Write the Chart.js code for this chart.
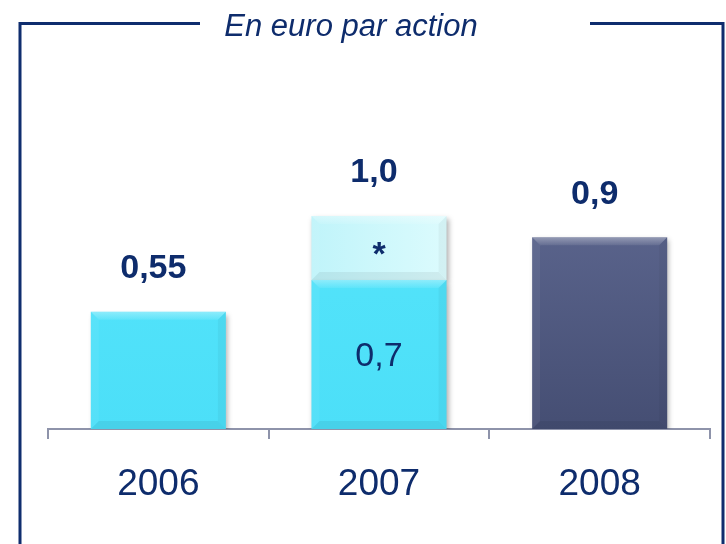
<!DOCTYPE html>
<html>
<head>
<meta charset="utf-8">
<script src="https://cdn.jsdelivr.net/npm/chart.js@4"></script>
<style>
html,body{margin:0;padding:0;background:#fff;}
#wrap{width:726px;height:544px;}
</style>
</head>
<body>
<div id="wrap"><canvas id="c" width="726" height="544"></canvas></div>
<script>
// ---- data ----
const categories = ['2006', '2007', '2008'];
const baseValues = [0.55, 0.7, 0.9];
const extraValues = [0, 0.3, 0];
const totalLabels = ['0,55', '1,0', '0,9'];
const baseInnerLabels = ['', '0,7', ''];
const extraInnerLabels = ['', '*', ''];
const titleText = 'En euro par action';

const NAVY = '#0e2c6c';

function baseFill(ctx) {
  const chart = ctx.chart;
  const area = chart.chartArea;
  if (!area) return '#50e4fc';
  const c = chart.ctx;
  const g = c.createLinearGradient(0, area.top, 0, area.bottom);
  if (ctx.dataIndex === 2) {
    g.addColorStop(0, '#66709a');
    g.addColorStop(1, '#454e73');
  } else {
    g.addColorStop(0, '#58e6fc');
    g.addColorStop(1, '#4cdff8');
  }
  return g;
}
function extraFill(ctx) {
  const chart = ctx.chart;
  const area = chart.chartArea;
  if (!area) return '#c8f7fb';
  const g = chart.ctx.createLinearGradient(area.left + 260, 0, area.left + 400, 0);
  g.addColorStop(0, '#bff4fa');
  g.addColorStop(1, '#dcfbfd');
  return g;
}

const framePlugin = {
  id: 'frame',
  beforeDraw(chart) {
    const c = chart.ctx;
    c.save();
    c.fillStyle = '#fff';
    c.fillRect(0, 0, chart.width, chart.height);
    c.strokeStyle = '#0f2d6e';
    c.lineWidth = 3;
    c.beginPath();
    c.moveTo(20, 545);
    c.lineTo(20, 23.5);
    c.lineTo(200, 23.5);
    c.moveTo(590, 23.5);
    c.lineTo(723, 23.5);
    c.lineTo(723, 545);
    c.stroke();
    c.font = 'italic 31px "Liberation Sans", Arial, sans-serif';
    c.fillStyle = NAVY;
    c.textAlign = 'center';
    c.textBaseline = 'alphabetic';
    c.fillText(titleText, 351, 36);
    c.restore();
  }
};

const shadowPlugin = {
  id: 'barShadow',
  beforeDatasetsDraw(chart) {
    const c = chart.ctx;
    c.save();
    c.shadowColor = 'rgba(0,0,0,0.3)';
    c.shadowBlur = 5;
    c.shadowOffsetX = 2;
    c.shadowOffsetY = 3;
  },
  afterDatasetsDraw(chart) {
    const c = chart.ctx;
    c.restore();
    // bevel
    const b = 8;
    chart.data.datasets.forEach((ds, di) => {
      const meta = chart.getDatasetMeta(di);
      meta.data.forEach((el, i) => {
        if (!ds.data[i]) return;
        const p = el.getProps(['x', 'y', 'base', 'width'], true);
        const l = p.x - p.width / 2, r = p.x + p.width / 2, t = p.y, bo = p.base;
        c.save();
        const g = c.createLinearGradient(0, t, 0, t + b);
        g.addColorStop(0, 'rgba(255,255,255,0.35)');
        g.addColorStop(1, 'rgba(255,255,255,0.08)');
        c.fillStyle = g;
        c.beginPath();
        c.moveTo(l, t); c.lineTo(r, t); c.lineTo(r - b, t + b); c.lineTo(l + b, t + b); c.closePath();
        c.fill();
        c.fillStyle = 'rgba(255,255,255,0.05)';
        c.beginPath();
        c.moveTo(l, t); c.lineTo(l + b, t + b); c.lineTo(l + b, bo - b); c.lineTo(l, bo); c.closePath();
        c.fill();
        c.fillStyle = 'rgba(0,0,0,0.04)';
        c.beginPath();
        c.moveTo(r, t); c.lineTo(r - b, t + b); c.lineTo(r - b, bo - b); c.lineTo(r, bo); c.closePath();
        c.fill();
        c.fillStyle = 'rgba(0,0,0,0.06)';
        c.beginPath();
        c.moveTo(l, bo); c.lineTo(l + b, bo - b); c.lineTo(r - b, bo - b); c.lineTo(r, bo); c.closePath();
        c.fill();
        c.restore();
      });
    });
  },
  afterDraw(chart) {
    const c = chart.ctx;
    const ys = chart.scales.y;
    const m0 = chart.getDatasetMeta(0);
    const m1 = chart.getDatasetMeta(1);
    c.save();
    c.fillStyle = NAVY;
    c.textAlign = 'center';
    c.textBaseline = 'middle';
    // totals
    c.font = 'bold 34px "Liberation Sans", Arial, sans-serif';
    categories.forEach((cat, i) => {
      const total = baseValues[i] + extraValues[i];
      const x = m0.data[i].x;
      const y = ys.getPixelForValue(total) - 43;
      c.fillText(totalLabels[i], x - 5, y);
    });
    // inner labels
    c.font = '34px "Liberation Sans", Arial, sans-serif';
    categories.forEach((cat, i) => {
      if (baseInnerLabels[i]) {
        const el = m0.data[i];
        c.fillText(baseInnerLabels[i], el.x, (el.y + el.base) / 2 + 2);
      }
    });
    c.font = 'bold 34px "Liberation Sans", Arial, sans-serif';
    categories.forEach((cat, i) => {
      if (extraInnerLabels[i]) {
        const el = m1.data[i];
        c.fillText(extraInnerLabels[i], el.x, (el.y + el.base) / 2 + 8);
      }
    });
    c.restore();
  }
};

new Chart(document.getElementById('c'), {
  type: 'bar',
  data: {
    labels: categories,
    datasets: [
      { data: baseValues, backgroundColor: baseFill, borderWidth: 0 },
      { data: extraValues, backgroundColor: extraFill, borderWidth: 0 }
    ]
  },
  options: {
    responsive: false,
    animation: false,
    devicePixelRatio: 1,
    layout: { padding: { left: 48, right: 16, top: 109.5, bottom: 0 } },
    datasets: { bar: { categoryPercentage: 1, barPercentage: 0.612 } },
    plugins: { legend: { display: false }, tooltip: { enabled: false }, title: { display: false } },
    scales: {
      x: {
        stacked: true,
        offset: true,
        afterFit(scale) { scale.height = 115; },
        border: { display: true, color: '#8e93aa', width: 2 },
        grid: { display: true, drawOnChartArea: false, drawTicks: true, tickLength: 10, color: '#8e93aa', lineWidth: 2, offset: true },
        ticks: { color: NAVY, font: { family: '"Liberation Sans", Arial, sans-serif', size: 37 }, padding: 24 }
      },
      y: {
        stacked: true,
        display: false,
        min: 0,
        max: 1.5
      }
    }
  },
  plugins: [framePlugin, shadowPlugin]
});
</script>
</body>
</html>
